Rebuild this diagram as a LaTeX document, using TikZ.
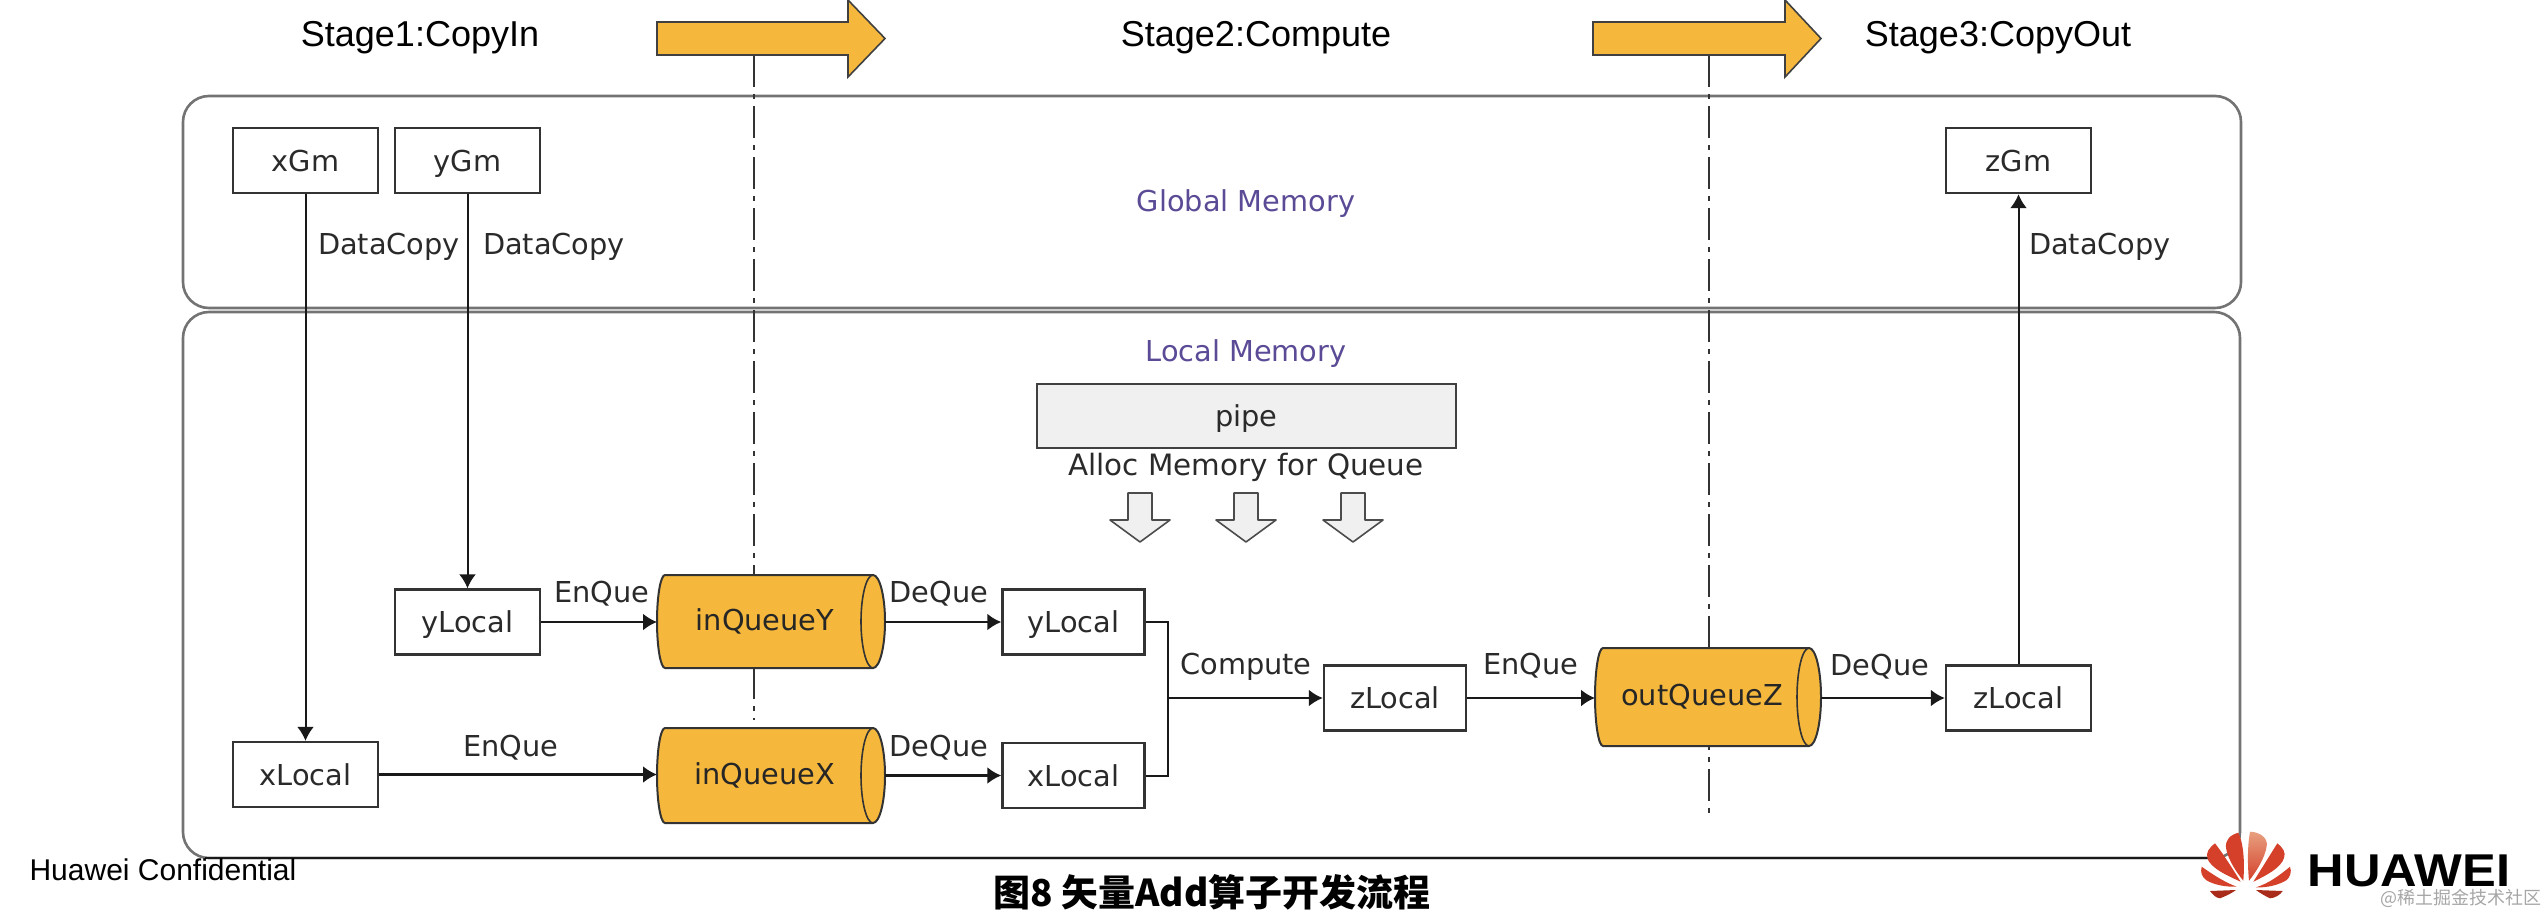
\documentclass[tikz,border=0pt]{standalone}
\usepackage{fontspec}
\setmainfont{DejaVu Sans}
\newfontfamily\arialf{Liberation Sans}
\newfontfamily\hwf[FakeStretch=1.1]{Liberation Sans}
\newfontfamily\cjkf{Noto Sans CJK SC}
\usetikzlibrary{arrows.meta}
\definecolor{qorange}{HTML}{F5B83D}
\definecolor{memtxt}{HTML}{5B4A96}
\definecolor{txtc}{HTML}{2A2A2A}
\definecolor{petal}{HTML}{D4402A}
\definecolor{petald}{HTML}{A92C1B}
\definecolor{petall}{HTML}{E8A080}
\tikzset{
  lbl/.style={inner sep=0pt,text=txtc,font=\fontsize{28.8}{30}\selectfont},
  stagelbl/.style={inner sep=0pt,text=black,font=\arialf\fontsize{36}{40}\selectfont},
  memlbl/.style={inner sep=0pt,text=memtxt,font=\fontsize{28.8}{30}\selectfont},
  memnode/.style={draw=black!80,line width=2.4pt,fill=white,minimum width=145pt,minimum height=65pt,inner sep=0pt,text=txtc,text height=24pt,text depth=3pt,font=\fontsize{28.8}{30}\selectfont},
  memnodeN/.style={memnode,minimum width=142pt},
  pipebox/.style={draw=black!75,line width=2.4pt,fill=black!6,minimum width=419pt,minimum height=64pt,inner sep=0pt,text=txtc,text height=24pt,text depth=3pt,font=\fontsize{28.8}{30}\selectfont},
  membox/.style={draw=black!55,line width=2.6pt,rounded corners=26pt},
  flow/.style={draw=black!90,line width=2.4pt,-{Latex[length=14pt,width=17pt]}},
  plain/.style={draw=black!90,line width=2pt},
  stagearrow/.style={draw=black!75,line width=1.6pt,fill=qorange,line join=miter},
  allocarrow/.style={draw=black!70,line width=1.6pt,fill=black!6,line join=round},
  stageline/.style={draw=black!80,line width=1.8pt,dash pattern=on 32pt off 7pt on 5pt off 7pt},
  queuelbl/.style={minimum width=200pt,minimum height=90pt,inner sep=0pt,text=black!85,font=\fontsize{28.8}{30}\selectfont},
  qbody/.style={draw=black!80,line width=2pt,fill=qorange},
  qrim/.style={draw=black!80,line width=1.6pt},
  petalfill/.style={fill=petal,draw=none}
}
% name, x0, x1, y0, y1, label
\newcommand\queuenode[6]{%
  \pgfmathsetmacro\qa{#2+8}\pgfmathsetmacro\qb{#3-12}\pgfmathsetmacro\qm{(#4+#5)/2}%
  \pgfmathsetmacro\qc{#4+(#5-#4)*0.225}\pgfmathsetmacro\qd{#5-(#5-#4)*0.225}%
  \path[qbody] (\qa,#4) -- (\qb,#4) .. controls (#3-5.4,#4) and (#3,\qc) .. (#3,\qm) .. controls (#3,\qd) and (#3-5.4,#5) .. (\qb,#5) -- (\qa,#5) .. controls (#2+3.6,#5) and (#2,\qd) .. (#2,\qm) .. controls (#2,\qc) and (#2+3.6,#4) .. cycle;
  \path[qrim] (\qb,#4) .. controls (#3-18.6,#4) and (#3-24,\qc) .. (#3-24,\qm) .. controls (#3-24,\qd) and (#3-18.6,#5) .. (\qb,#5);
  \node[queuelbl] (#1) at ({(#2+#3)/2-6},\qm) {#6};
  \coordinate (#1-in) at (#2,\qm);
  \coordinate (#1-out) at (#3,\qm);
}
% x0, head base x, tip x
\newcommand\stagearr[3]{%
  \path[stagearrow] (#1,22) -- (#2,22) -- (#2,0) -- (#3,38.5) -- (#2,77) -- (#2,55) -- (#1,55) -- cycle;
}
% tip x, half shaft width
\newcommand\allocarr[2]{%
  \path[allocarrow] ({#1-#2},493) -- ({#1+#2},493) -- ({#1+#2},520) -- ({#1+30},520) -- (#1,542) -- ({#1-30},520) -- ({#1-#2},520) -- cycle;
}
\begin{document}
\begin{tikzpicture}[x=1pt,y=-1pt]
\useasboundingbox (0,0) rectangle (2547,911);
% memory regions
\draw[membox] (183,96) rectangle (2241,308);
\draw[membox] (2240,858) -- (183,858) -- (183,312) -- (2240,312) -- cycle;
\draw[draw=black!90,line width=2.4pt] (205,858) -- (2215,858);
% stage arrows
\coordinate (sepAtop) at (754,55);
\coordinate (sepAend) at (754,720);
\coordinate (sepBtop) at (1709,55);
\coordinate (sepBend) at (1709,817);
\draw[stageline] (sepAtop) -- (sepAend);
\draw[stageline] (sepBtop) -- (sepBend);
\stagearr{657}{848}{885}
\stagearr{1593}{1785}{1821}
% stage labels
\node[stagelbl] (st1) at (420,38) {Stage1:CopyIn};
\node[stagelbl] (st2) at (1256,38) {Stage2:Compute};
\node[stagelbl] (st3) at (1998,38) {Stage3:CopyOut};
\node[memlbl] (gm) at (1246,204) {Global Memory};
\node[memlbl] (lm) at (1246,354) {Local Memory};
% memory nodes
\node[memnode] (xGm) at (305.5,160.5) {xGm};
\node[memnode] (yGm) at (467.5,160.5) {yGm};
\node[memnode] (zGm) at (2018.5,160.5) {zGm};
\node[memnode] (yL1) at (467.5,622) {yLocal};
\node[memnode] (xL1) at (305.5,774.5) {xLocal};
\node[memnodeN] (yL2) at (1073.5,622) {yLocal};
\node[memnodeN] (xL2) at (1073.5,775.5) {xLocal};
\node[memnodeN] (zL1) at (1395,698) {zLocal};
\node[memnode] (zL2) at (2018.5,698) {zLocal};
\node[pipebox] (pipe) at (1246.5,416) {pipe};
\node[lbl,font=\fontsize{29.4}{30}\selectfont] (alloc) at (1246,467) {Alloc Memory for Queue};
\allocarr{1140}{12}
\allocarr{1246}{12}
\allocarr{1353}{12}
% queues
\queuenode{qY}{657}{885}{575}{668}{inQueueY}
\queuenode{qX}{657}{885}{728}{823}{inQueueX}
\queuenode{qZ}{1595}{1821}{648}{746}{outQueueZ}
% connectors
\draw[flow,line width=2pt] (xGm.south) -- (xL1.north);
\draw[flow,line width=2pt] (yGm.south) -- (yL1.north);
\draw[flow,line width=2pt] (zL2.north) -- (zGm.south);
\draw[flow] (yL1.east) -- (yL1.east -| qY-in);
\draw[flow] (xL1.east) -- (xL1.east -| qX-in);
\draw[flow] (qY-out |- yL2.west) -- (yL2.west);
\draw[flow] (qX-out |- xL2.west) -- (xL2.west);
\coordinate (mergeT) at (1168,622);
\coordinate (mergeB) at (1168,775.5);
\coordinate (mergeM) at (1168,698);
\draw[plain] (yL2.east) -- (mergeT) -- (mergeB) -- (xL2.east);
\draw[flow] (mergeM) -- (zL1.west);
\draw[flow] (zL1.east) -- (zL1.east -| qZ-in);
\draw[flow] (qZ-out |- zL2.west) -- (zL2.west);
% connector labels
\node[lbl] (dc1) at (389,247) {DataCopy};
\node[lbl] (dc2) at (554,247) {DataCopy};
\node[lbl] (dc3) at (2100,247) {DataCopy};
\node[lbl] (eq1) at (602,594) {EnQue};
\node[lbl] (eq2) at (511,748) {EnQue};
\node[lbl] (eq3) at (1531,666) {EnQue};
\node[lbl] (dq1) at (939,594) {DeQue};
\node[lbl] (dq2) at (939,748) {DeQue};
\node[lbl] (dq3) at (1880,667) {DeQue};
\node[lbl] (cp) at (1246,667) {Compute};
% footer
\node[inner sep=0pt,text=black,font=\arialf\fontsize{30}{32}\selectfont] (conf) at (163,870) {Huawei Confidential};
\node[inner sep=0pt,text=black,font=\cjkf\bfseries\fontsize{37}{39}\selectfont] (cap) at (1212,892) {图8 矢量Add算子开发流程};
% logo
\path[top color=petall,bottom color=petal,draw=none] (2249,880.7) .. controls (2247,860) and (2248,842) .. (2250,831.7) .. controls (2260,832) and (2268,838) .. (2266.7,846) .. controls (2265,858) and (2256,872) .. (2249,880.7) -- cycle;
\path[petalfill] (2243.3,880.7) .. controls (2245,860) and (2243,842) .. (2238.3,832.7) .. controls (2230,835) and (2225,840) .. (2226,848) .. controls (2228,860) and (2237,873) .. (2243.3,880.7) -- cycle;
\path[petalfill] (2240.7,881.7) .. controls (2232,868) and (2224,855) .. (2215,843.3) .. controls (2209,848) and (2206,852) .. (2207.3,858) .. controls (2210,868) and (2228,876) .. (2240.7,881.7) -- cycle;
\path[petalfill] (2253.3,881.7) .. controls (2262,868) and (2270,855) .. (2277.3,843.3) .. controls (2283,848) and (2286,852) .. (2284,858) .. controls (2281,868) and (2265,876) .. (2253.3,881.7) -- cycle;
\path[petalfill] (2236.7,886.7) .. controls (2224,882) and (2212,874) .. (2201.7,866.7) .. controls (2200,872) and (2202,877) .. (2206,880) .. controls (2214,885) and (2226,887) .. (2236.7,886.7) -- cycle;
\path[petalfill] (2256,887.3) .. controls (2270,883) and (2281,874) .. (2290,866.7) .. controls (2292,872) and (2290,877) .. (2286.7,880) .. controls (2279,885) and (2266,888) .. (2256,887.3) -- cycle;
\path[fill=petald,draw=none] (2236,890) -- (2210,891) .. controls (2213,895) and (2216,898) .. (2220,898.3) .. controls (2226,896) and (2232,893) .. (2236,890) -- cycle;
\path[fill=petald,draw=none] (2256,890) -- (2282.7,891) .. controls (2280,895) and (2275,898) .. (2270,898.3) .. controls (2265,896) and (2260,893) .. (2256,890) -- cycle;
\node[inner sep=0pt,text=black,font=\hwf\bfseries\fontsize{46}{48}\selectfont] (hw) at (2409,871) {HUAWEI};
\node[inner sep=0pt,text=black!35,font=\cjkf\fontsize{18}{20}\selectfont] (wm) at (2461,898) {@稀土掘金技术社区};
\end{tikzpicture}
\end{document}
